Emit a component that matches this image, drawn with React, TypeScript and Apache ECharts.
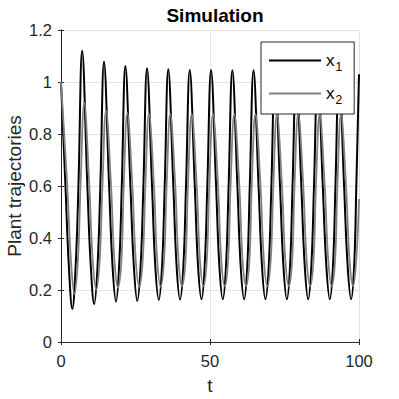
import React, { useEffect, useRef } from "react";
import * as echarts from "echarts";

// x1 (black): [t, value]
const x1Data: [number, number][] = [
  [0, 1.0], [1.5, 0.6], [2.6, 0.3], [3.8, 0.127], [4.95, 0.3], [5.85, 0.6], [7.1, 1.12],
  [8.85, 0.6], [9.95, 0.3], [11.15, 0.146], [12.3, 0.3], [13.2, 0.6], [14.43, 1.078],
  [16.15, 0.6], [17.25, 0.3], [18.45, 0.155], [19.55, 0.3], [20.4, 0.6], [21.6, 1.062],
  [23.3, 0.6], [24.4, 0.3], [25.6, 0.158], [26.75, 0.3], [27.65, 0.6], [28.86, 1.053],
  [30.55, 0.6], [31.6, 0.3], [32.8, 0.162], [33.95, 0.3], [34.8, 0.6], [36.0, 1.049],
  [37.7, 0.6], [38.75, 0.3], [39.95, 0.163], [41.1, 0.3], [41.95, 0.6], [43.2, 1.046],
  [44.9, 0.6], [45.95, 0.3], [47.15, 0.164], [48.25, 0.3], [49.1, 0.6], [50.35, 1.046],
  [52.05, 0.6], [53.1, 0.3], [54.3, 0.164], [55.4, 0.3], [56.25, 0.6], [57.5, 1.045],
  [59.2, 0.6], [60.25, 0.3], [61.45, 0.164], [62.55, 0.3], [63.35, 0.6], [64.6, 1.045],
  [66.3, 0.6], [67.4, 0.3], [68.6, 0.164], [69.75, 0.3], [70.6, 0.6], [71.8, 1.045],
  [73.5, 0.6], [74.6, 0.3], [75.8, 0.164], [76.9, 0.3], [77.7, 0.6], [78.95, 1.045],
  [80.65, 0.6], [81.75, 0.3], [82.95, 0.164], [84.05, 0.3], [84.9, 0.6], [86.15, 1.045],
  [87.85, 0.6], [89.0, 0.3], [90.2, 0.164], [91.3, 0.3], [92.1, 0.6], [93.3, 1.045],
  [95.0, 0.6], [96.15, 0.3], [97.35, 0.164], [98.4, 0.3], [99.1, 0.6], [100, 1.03],
];

// x2 (gray): [t, value]
const x2Data: [number, number][] = [
  [0, 1.0], [2.1, 0.6], [3.3, 0.32], [4.5, 0.185], [5.7, 0.32], [6.55, 0.6], [7.8, 0.92],
  [9.5, 0.6], [10.6, 0.32], [11.8, 0.2], [13.0, 0.32], [13.9, 0.6], [15.1, 0.89],
  [16.8, 0.6], [17.9, 0.32], [19.1, 0.208], [20.3, 0.32], [21.05, 0.6], [22.25, 0.88],
  [23.95, 0.6], [25.05, 0.32], [26.25, 0.212], [27.45, 0.32], [28.3, 0.6], [29.5, 0.878],
  [31.2, 0.6], [32.25, 0.32], [33.45, 0.213], [34.6, 0.32], [35.45, 0.6], [36.65, 0.877],
  [38.35, 0.6], [39.4, 0.32], [40.6, 0.214], [41.8, 0.32], [42.6, 0.6], [43.85, 0.877],
  [45.55, 0.6], [46.6, 0.32], [47.8, 0.214], [48.95, 0.32], [49.75, 0.6], [51.0, 0.877],
  [52.7, 0.6], [53.75, 0.32], [54.95, 0.214], [56.1, 0.32], [56.9, 0.6], [58.15, 0.877],
  [59.85, 0.6], [60.9, 0.32], [62.1, 0.214], [63.25, 0.32], [64.0, 0.6], [65.25, 0.877],
  [66.95, 0.6], [68.05, 0.32], [69.25, 0.214], [70.4, 0.32], [71.25, 0.6], [72.45, 0.877],
  [74.15, 0.6], [75.25, 0.32], [76.45, 0.214], [77.6, 0.32], [78.35, 0.6], [79.6, 0.877],
  [81.3, 0.6], [82.4, 0.32], [83.6, 0.214], [84.75, 0.32], [85.55, 0.6], [86.8, 0.877],
  [88.5, 0.6], [89.65, 0.32], [90.85, 0.214], [92.0, 0.32], [92.75, 0.6], [93.95, 0.877],
  [95.65, 0.6], [96.8, 0.32], [98.0, 0.214], [99.1, 0.32], [100, 0.55],
];

const seriesNames = ["x1", "x2"];
const seriesColors = ["#000000", "#808080"];
const xTicks = { min: 0, max: 100, interval: 50 };
const yTicks = { min: 0, max: 1.2, interval: 0.2 };

const AXIS = "#262626";
const FONT = "'Liberation Sans', Arial, sans-serif";

export default function App() {
  const ref = useRef<HTMLDivElement>(null);
  useEffect(() => {
    document.body.style.margin = "0";
    const chart = echarts.init(ref.current!, undefined, { renderer: "svg" });
    const sideAxisCommon = {
      axisLine: { show: true, lineStyle: { color: AXIS, width: 1 } },
      axisTick: { show: true, inside: true, length: 3, lineStyle: { color: AXIS } },
      axisLabel: { show: false },
      splitLine: { show: false },
    };
    chart.setOption({
      animation: false,
      backgroundColor: "#ffffff",
      textStyle: { fontFamily: FONT },
      title: {
        text: "Simulation",
        left: 210,
        textAlign: "center",
        top: 1,
        textStyle: { fontFamily: FONT, fontSize: 19, fontWeight: "bold", color: "#000" },
      },
      grid: {
        left: 61,
        top: 30,
        width: 298,
        height: 312,
        containLabel: false,
        outerBoundsMode: "none",
      },
      legend: {
        orient: "vertical",
        left: 261,
        top: 42,
        width: 91,
        data: [
          { name: seriesNames[0], icon: "rect", itemStyle: { color: seriesColors[0] } },
          { name: seriesNames[1], icon: "rect", itemStyle: { color: seriesColors[1] } },
        ],
        backgroundColor: "#ffffff",
        borderColor: AXIS,
        borderWidth: 1,
        borderRadius: 0,
        padding: [10, 12, 8, 8],
        itemGap: 12,
        itemWidth: 52,
        itemHeight: 2,
        formatter: (name: string) => `{x|x}{s|${name.slice(1)}}`,
        textStyle: {
          color: "#000",
          fontFamily: FONT,
          rich: {
            x: { fontSize: 17, fontFamily: FONT, color: "#000" },
            s: { fontSize: 12, fontFamily: FONT, color: "#000", padding: [13, 0, 0, 1] },
          },
        },
      },
      xAxis: [
        {
          type: "value",
          min: xTicks.min,
          max: xTicks.max,
          interval: xTicks.interval,
          name: "t",
          nameLocation: "middle",
          nameGap: 34,
          nameMoveOverlap: false,
          nameTextStyle: { fontFamily: FONT, fontSize: 19, color: AXIS },
          axisLine: { show: true, onZero: false, lineStyle: { color: AXIS, width: 1 } },
          axisTick: { show: true, inside: true, length: 3, lineStyle: { color: AXIS } },
          axisLabel: { fontFamily: FONT, fontSize: 16.5, color: AXIS, margin: 10 },
          splitLine: { show: true, lineStyle: { color: "#e3e3e3", width: 1 } },
        },
        {
          type: "value",
          position: "top",
          min: xTicks.min,
          max: xTicks.max,
          interval: xTicks.interval,
          ...sideAxisCommon,
        },
      ],
      yAxis: [
        {
          type: "value",
          min: yTicks.min,
          max: yTicks.max,
          interval: yTicks.interval,
          name: "Plant trajectories",
          nameLocation: "middle",
          nameGap: 37,
          nameMoveOverlap: false,
          nameTextStyle: { fontFamily: FONT, fontSize: 19, color: AXIS },
          axisLine: { show: true, onZero: false, lineStyle: { color: AXIS, width: 1 } },
          axisTick: { show: true, inside: true, length: 3, lineStyle: { color: AXIS } },
          axisLabel: { fontFamily: FONT, fontSize: 16.5, color: AXIS, margin: 9 },
          splitLine: { show: true, lineStyle: { color: "#e3e3e3", width: 1 } },
        },
        {
          type: "value",
          position: "right",
          min: yTicks.min,
          max: yTicks.max,
          interval: yTicks.interval,
          ...sideAxisCommon,
        },
      ],
      series: [
        {
          name: seriesNames[0],
          type: "line",
          data: x1Data,
          showSymbol: false,
          symbol: "none",
          smooth: 0.4,
          lineStyle: { color: seriesColors[0], width: 2 },
          itemStyle: { color: seriesColors[0] },
          z: 2,
        },
        {
          name: seriesNames[1],
          type: "line",
          data: x2Data,
          showSymbol: false,
          symbol: "none",
          smooth: 0.4,
          lineStyle: { color: seriesColors[1], width: 1.8 },
          itemStyle: { color: seriesColors[1] },
          z: 3,
        },
      ],
    });
    return () => chart.dispose();
  }, []);
  return <div ref={ref} style={{ width: 399, height: 399 }} />;
}
